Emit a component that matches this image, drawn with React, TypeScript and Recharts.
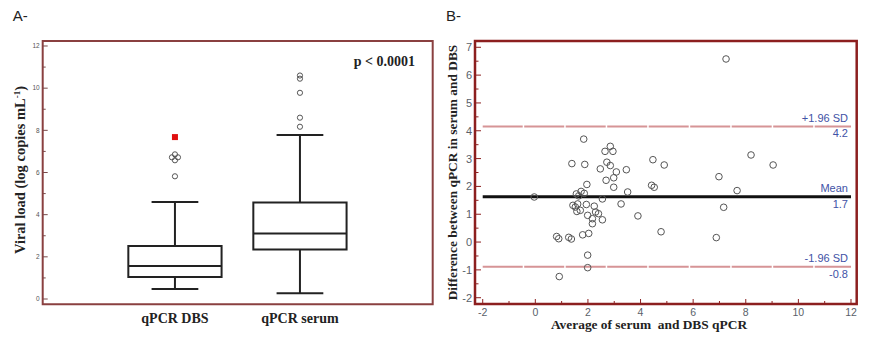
import React from "react";
import {
  ReferenceArea,
  ReferenceLine,
  Scatter,
  ScatterChart,
  XAxis,
  YAxis,
} from "recharts";

// A- : viral load box plot (log copies/mL)
const groups = ["qPCR DBS", "qPCR serum"];
const groupPos = [1, 2];
const whiskerLow = [0.47, 0.27];
const q1 = [1.04, 2.35];
const median = [1.57, 3.11];
const q3 = [2.51, 4.58];
const whiskerHigh = [4.6, 7.78];

const dbsOutlierX = [1, 0.976, 1.024, 1, 1];
const dbsOutlierY = [6.86, 6.72, 6.72, 6.58, 5.82];
const dbsExtremeY = [7.68];
const serumOutlierY = [10.6, 10.45, 9.78, 8.6, 8.17];

const viralTicks = [0, 1, 2, 3, 4, 5, 6, 7, 8, 9, 10, 11, 12];

// B- : Bland-Altman, serum vs DBS
const avgValues = [
  7.25, 1.84, 2.85, 2.65, 2.95, 2.72, 2.85, 1.39, 1.88, 2.47, 3.08, 3.46, 2.98,
  2.69, 1.96, 2.98, 3.51, 4.47, 4.9, 4.42, 4.52, 8.2, 9.04, 6.98, 7.67, 7.16,
  6.88, -0.04, 1.56, 1.74, 1.86, 1.65, 1.43, 1.61, 1.52, 1.58, 1.71, 1.94, 2.24,
  2.29, 2.4, 2.55, 1.99, 2.17, 2.17, 2.55, 3.26, 3.9, 4.78, 0.81, 0.89, 1.27,
  1.37, 1.8, 2.03, 1.99, 1.99, 0.91,
];
const diffValues = [
  6.58, 3.7, 3.44, 3.26, 3.26, 2.87, 2.75, 2.82, 2.79, 2.63, 2.52, 2.6, 2.31,
  2.22, 2.07, 1.97, 1.8, 2.96, 2.77, 2.04, 1.97, 3.13, 2.77, 2.35, 1.85, 1.25,
  0.16, 1.62, 1.73, 1.82, 1.75, 1.66, 1.32, 1.37, 1.26, 1.1, 1.14, 1.35, 1.29,
  1.08, 1.02, 1.55, 0.96, 0.84, 0.66, 0.8, 1.37, 0.94, 0.37, 0.2, 0.12, 0.17,
  0.11, 0.26, 0.31, -0.47, -0.92, -1.24,
];
const meanDiff = 1.63;
const upperLoa = 4.15;
const lowerLoa = -0.89;
const diffTicks = [
  -2, -1.5, -1, -0.5, 0, 0.5, 1, 1.5, 2, 2.5, 3, 3.5, 4, 4.5, 5, 5.5, 6, 6.5, 7,
];
const avgTicks = [-2, -1, 0, 1, 2, 3, 4, 5, 6, 7, 8, 9, 10, 11, 12];

// layout
const A_LEFT = 42.7;
const A_BOTTOM = 304.3;
const B_LEFT = 35;
const B_BOTTOM = 304;
const BOX_HALF = 0.373;
const CAP_HALF = 0.187;
const A_XDOM: [number, number] = [-0.058, 3.062];
const A_YDOM: [number, number] = [-0.251, 12.237];
const B_XDOM: [number, number] = [-2.293, 12.217];
const B_YDOM: [number, number] = [-2.226, 7.226];

const SERIF = "'Liberation Serif', 'Times New Roman', serif";
const SANS = "'Liberation Sans', Arial, sans-serif";
const BLUE = "#4152a6";

const boxOutliers = [
  ...dbsOutlierY.map((y, i) => ({ x: dbsOutlierX[i], y, extreme: false })),
  ...dbsExtremeY.map((y) => ({ x: groupPos[0], y, extreme: true })),
  ...serumOutlierY.map((y) => ({ x: groupPos[1], y, extreme: false })),
];

const baPoints = avgValues.map((x, i) => ({ x, y: diffValues[i] }));

function ViralTick(p: any) {
  const v = p.payload.value;
  const major = v % 2 === 0;
  return (
    <g>
      <line x1={A_LEFT} x2={A_LEFT + (major ? 5 : 3)} y1={p.y} y2={p.y} stroke="#7a4a4a" strokeWidth={1} />
      {major && (
        <text x={A_LEFT - 3} y={p.y + 2.3} textAnchor="end" fontSize={6.5} fill="#555" fontFamily={SANS}>
          {v}
        </text>
      )}
    </g>
  );
}

function GroupTick(p: any) {
  const i = groupPos.indexOf(p.payload.value);
  return (
    <text x={p.x} y={A_BOTTOM + 18.3} textAnchor="middle" fontSize={14} fontWeight="bold" fill="#222" fontFamily={SERIF}>
      {groups[i]}
    </text>
  );
}

function DiffTick(p: any) {
  const v = p.payload.value;
  const major = Number.isInteger(v);
  return (
    <g>
      <line x1={B_LEFT} x2={B_LEFT + (major ? 6 : 3.5)} y1={p.y} y2={p.y} stroke="#8c2020" strokeWidth={1} />
      {major && (
        <text x={B_LEFT - 3} y={p.y + 4} textAnchor="end" fontSize={11} fill="#5a5f6a" fontFamily={SANS}>
          {v}
        </text>
      )}
    </g>
  );
}

function AvgTick(p: any) {
  const v = p.payload.value;
  const major = v % 2 === 0;
  return (
    <g>
      <line x1={p.x} x2={p.x} y1={B_BOTTOM} y2={B_BOTTOM - (major ? 5 : 3)} stroke="#8c2020" strokeWidth={1} />
      {major && (
        <text x={p.x} y={B_BOTTOM + 11.8} textAnchor="middle" fontSize={10.5} fill="#5a5f6a" fontFamily={SANS}>
          {v}
        </text>
      )}
    </g>
  );
}

function LineLabel({ viewBox, top, bottom }: any) {
  const right = viewBox.x + viewBox.width - 3;
  return (
    <g fontFamily={SANS} fontSize={11} fill={BLUE}>
      <text x={right} y={viewBox.y - 4.5} textAnchor="end">{top}</text>
      <text x={right} y={viewBox.y + 10.8} textAnchor="end">{bottom}</text>
    </g>
  );
}

function BoxPanel() {
  return (
    <ScatterChart width={440} height={338} margin={{ top: 41, right: 7.3, bottom: 0, left: 0 }}>
      <XAxis
        type="number"
        dataKey="x"
        domain={A_XDOM}
        ticks={groupPos}
        interval={0}
        tick={GroupTick}
        tickLine={false}
        axisLine={false}
        height={33.7}
      />
      <YAxis
        type="number"
        dataKey="y"
        domain={A_YDOM}
        ticks={viralTicks}
        interval={0}
        tick={ViralTick}
        tickLine={false}
        axisLine={false}
        width={A_LEFT}
      />
      {groups.flatMap((g, i) => [
        <ReferenceLine
          key={g + "wl"}
          segment={[{ x: groupPos[i], y: whiskerLow[i] }, { x: groupPos[i], y: q1[i] }]}
          stroke="#222"
          strokeWidth={2}
        />,
        <ReferenceLine
          key={g + "wh"}
          segment={[{ x: groupPos[i], y: q3[i] }, { x: groupPos[i], y: whiskerHigh[i] }]}
          stroke="#222"
          strokeWidth={2}
        />,
        <ReferenceLine
          key={g + "cl"}
          segment={[{ x: groupPos[i] - CAP_HALF, y: whiskerLow[i] }, { x: groupPos[i] + CAP_HALF, y: whiskerLow[i] }]}
          stroke="#222"
          strokeWidth={2}
        />,
        <ReferenceLine
          key={g + "ch"}
          segment={[{ x: groupPos[i] - CAP_HALF, y: whiskerHigh[i] }, { x: groupPos[i] + CAP_HALF, y: whiskerHigh[i] }]}
          stroke="#222"
          strokeWidth={2}
        />,
        <ReferenceArea
          key={g + "box"}
          x1={groupPos[i] - BOX_HALF}
          x2={groupPos[i] + BOX_HALF}
          y1={q1[i]}
          y2={q3[i]}
          fill="none"
          fillOpacity={0}
          stroke="#222"
          strokeWidth={2}
        />,
        <ReferenceLine
          key={g + "med"}
          segment={[{ x: groupPos[i] - BOX_HALF, y: median[i] }, { x: groupPos[i] + BOX_HALF, y: median[i] }]}
          stroke="#222"
          strokeWidth={2}
        />,
      ])}
      <Scatter
        data={boxOutliers}
        isAnimationActive={false}
        shape={(p: any) =>
          p.payload.extreme ? (
            <rect x={p.cx - 3} y={p.cy - 3} width={6} height={6} fill="#e01010" />
          ) : (
            <circle cx={p.cx} cy={p.cy} r={2.6} fill="none" stroke="#555" strokeWidth={1} />
          )
        }
      />
      <ReferenceArea
        x1={A_XDOM[0]}
        x2={A_XDOM[1]}
        y1={A_YDOM[0]}
        y2={A_YDOM[1]}
        fill="none"
        fillOpacity={0}
        stroke="#8a4040"
        strokeWidth={2}
      />
    </ScatterChart>
  );
}

function BlandAltmanPanel() {
  return (
    <ScatterChart width={430} height={338} margin={{ top: 41, right: 13.3, bottom: 0, left: 0 }}>
      <XAxis
        type="number"
        dataKey="x"
        domain={B_XDOM}
        ticks={avgTicks}
        interval={0}
        tick={AvgTick}
        tickLine={false}
        axisLine={false}
        height={34}
      />
      <YAxis
        type="number"
        dataKey="y"
        domain={B_YDOM}
        ticks={diffTicks}
        interval={0}
        tick={DiffTick}
        tickLine={false}
        axisLine={false}
        width={B_LEFT}
      />
      <ReferenceLine
        segment={[{ x: avgTicks[0], y: upperLoa }, { x: avgTicks[avgTicks.length - 1], y: upperLoa }]}
        stroke="#d69496"
        strokeWidth={2}
        strokeDasharray="40 1.5"
        label={<LineLabel top="+1.96 SD" bottom="4.2" />}
      />
      <ReferenceLine
        segment={[{ x: avgTicks[0], y: lowerLoa }, { x: avgTicks[avgTicks.length - 1], y: lowerLoa }]}
        stroke="#d69496"
        strokeWidth={2}
        strokeDasharray="40 1.5"
        label={<LineLabel top="-1.96 SD" bottom="-0.8" />}
      />
      <ReferenceLine
        segment={[{ x: avgTicks[0], y: meanDiff }, { x: avgTicks[avgTicks.length - 1], y: meanDiff }]}
        stroke="#111"
        strokeWidth={3}
        label={<LineLabel top="Mean" bottom="1.7" />}
      />
      <Scatter
        data={baPoints}
        isAnimationActive={false}
        shape={(p: any) => <circle cx={p.cx} cy={p.cy} r={3.3} fill="none" stroke="#555" strokeWidth={1} />}
      />
      <ReferenceArea
        x1={B_XDOM[0]}
        x2={B_XDOM[1]}
        y1={B_YDOM[0]}
        y2={B_YDOM[1]}
        fill="none"
        fillOpacity={0}
        stroke="#8c1f1f"
        strokeWidth={2.5}
      />
    </ScatterChart>
  );
}

export default function App() {
  return (
    <div style={{ position: "absolute", left: 0, top: 0, width: 870, height: 338, background: "#fff", overflow: "hidden" }}>
      <div style={{ position: "absolute", left: 0, top: 0 }}>
        <BoxPanel />
      </div>
      <div style={{ position: "absolute", left: 440, top: 0 }}>
        <BlandAltmanPanel />
      </div>
      <svg width={870} height={338} style={{ position: "absolute", left: 0, top: 0, pointerEvents: "none" }}>
        <text x={12.7} y={20.7} fontSize={15} fontFamily={SANS} fill="#222">A-</text>
        <text x={446} y={20.7} fontSize={15} fontFamily={SANS} fill="#222">B-</text>
        <text x={415} y={65.5} textAnchor="end" fontSize={14} fontWeight="bold" fontFamily={SERIF} fill="#222">
          p &lt; 0.0001
        </text>
        <text
          x={25}
          y={170}
          transform="rotate(-90 25 170)"
          textAnchor="middle"
          fontSize={14.5}
          fontWeight="bold"
          fontFamily={SERIF}
          fill="#222"
        >
          Viral load (log copies mL
          <tspan fontSize={9} dy={-5.5}>-1</tspan>
          <tspan dy={5.5}>)</tspan>
        </text>
        <text
          x={457}
          y={172.5}
          transform="rotate(-90 457 172.5)"
          textAnchor="middle"
          fontSize={13.4}
          fontWeight="bold"
          fontFamily={SERIF}
          fill="#222"
        >
          Difference between qPCR in serum and DBS
        </text>
        <text
          x={649}
          y={328.5}
          textAnchor="middle"
          fontSize={13.4}
          fontWeight="bold"
          fontFamily={SERIF}
          fill="#222"
          style={{ whiteSpace: "pre" }}
        >
          {"Average of serum  and DBS qPCR"}
        </text>
      </svg>
    </div>
  );
}
